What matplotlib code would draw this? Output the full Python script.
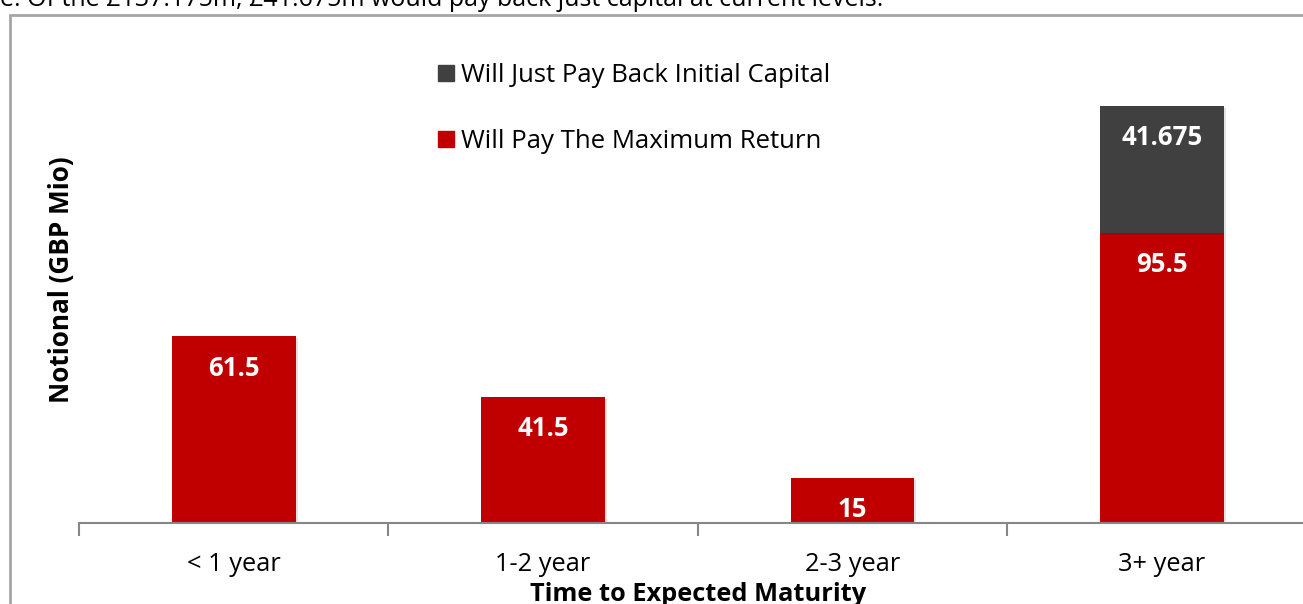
import matplotlib
matplotlib.use("Agg")
import matplotlib.pyplot as plt
from matplotlib.patches import Rectangle, Patch
import matplotlib.patheffects as pe
import numpy as np

plt.rcParams['font.family'] = ['Open Sans', 'DejaVu Sans']

# data
categories = ['< 1 year', '1-2 year', '2-3 year', '3+ year']
max_return = [61.5, 41.5, 15, 95.5]
just_capital = [0, 0, 0, 41.675]
max_labels = ['61.5', '41.5', '15', '95.5']
capital_labels = ['', '', '', '41.675']

red = '#C00000'
grey = '#404040'

W, H = 1303, 604
fig = plt.figure(figsize=(W / 100, H / 100), dpi=100)

# outer frame of the embedded chart (cut off on the right and bottom)
fig.patches.append(Rectangle((9.5 / W, -0.1), 1.2, 1 - 15 / H + 0.1, transform=fig.transFigure,
                             fill=False, edgecolor='#A6A6A6', linewidth=2))

# cropped caption line at the very top
fig.text(0, 1 - 6 / H, 'e. Of the £137.175m, £41.675m would pay back just capital at current levels.',
         fontsize=18, va='baseline', ha='left', color='black')

px_per_unit = 3.045
ymax = 150
ax = fig.add_axes([79 / W, (H - 523.3) / H, 1237.6 / W, ymax * px_per_unit / H])

x = np.arange(len(categories))
shadow = [pe.SimplePatchShadow(offset=(1.5, -1.5), alpha=0.12), pe.Normal()]
b1 = ax.bar(x, max_return, width=0.4, color=red, zorder=2, path_effects=shadow)
b2 = ax.bar(x, just_capital, width=0.4, bottom=max_return, color=grey, zorder=2, path_effects=shadow)

# labels inside the top of each segment
off = 32 / px_per_unit
for i in range(len(categories)):
    ax.text(x[i], max_return[i] - off, max_labels[i], ha='center', va='center',
            color='white', fontsize=18.5, fontweight='bold', zorder=3)
    if capital_labels[i]:
        ax.text(x[i], max_return[i] + just_capital[i] - off, capital_labels[i], ha='center',
                va='center', color='white', fontsize=18.5, fontweight='bold', zorder=3)

ax.set_xlim(-0.5, len(categories) - 0.5)
ax.set_ylim(0, ymax)
ax.set_xticks(x)
ax.set_xticklabels(categories, fontsize=18.3)
ax.set_xticks(np.arange(len(categories) + 1) - 0.5, minor=True)
ax.tick_params(axis='x', which='major', length=0, pad=21)
ax.tick_params(axis='x', which='minor', length=9, width=1.5, color='#868686', direction='out')
ax.set_yticks([])
for s in ['left', 'right', 'top']:
    ax.spines[s].set_visible(False)
ax.spines['bottom'].set_color('#868686')
ax.spines['bottom'].set_linewidth(1.5)

fig.text(698 / W, 1 - 601 / H, 'Time to Expected Maturity', ha='center', va='baseline',
         fontsize=18.3, fontweight='bold')
fig.text(61 / W, 1 - 280 / H, 'Notional (GBP Mio)', ha='center', va='center', rotation=90,
         fontsize=18.8, fontweight='bold')

handles = [Patch(color=grey), Patch(color=red)]
labels = ['Will Just Pay Back Initial Capital', 'Will Pay The Maximum Return']
leg = fig.legend(handles, labels, loc='upper left', bbox_to_anchor=(428 / W, 1 - 53 / H),
                 frameon=False, fontsize=18.5, handlelength=0.6, handleheight=0.6,
                 handletextpad=0.3, labelspacing=1.6, borderaxespad=0)

fig.savefig('out.png', dpi=100)
